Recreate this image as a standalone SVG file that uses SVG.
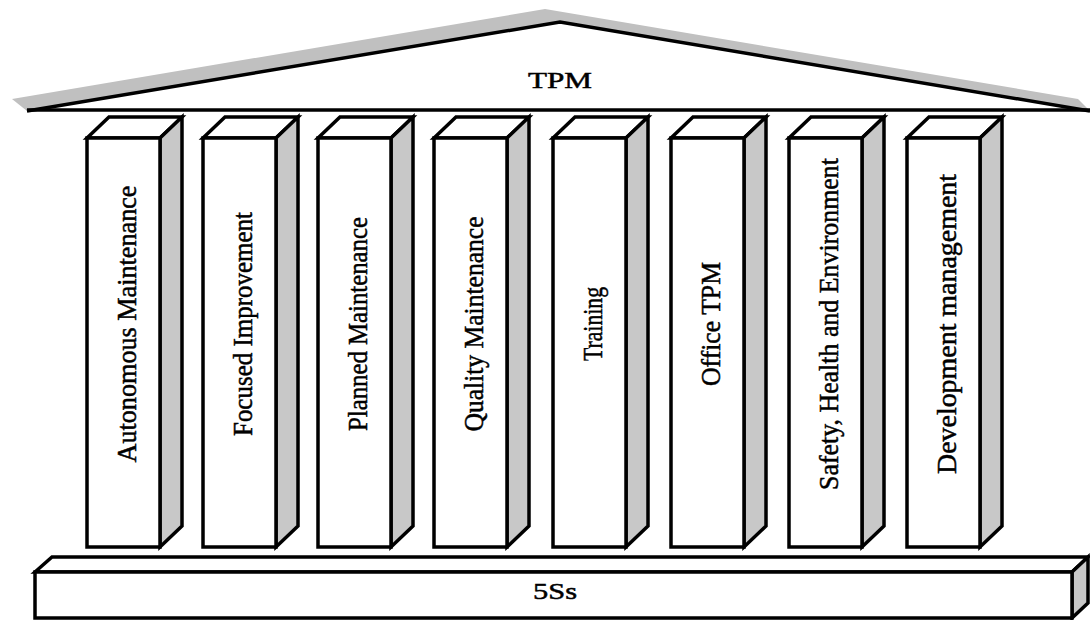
<svg xmlns="http://www.w3.org/2000/svg" width="1090" height="620" viewBox="0 0 1090 620">
<style>
.ln{stroke:#000;stroke-width:3.5;stroke-linejoin:miter}
.face{fill:#fff}
.side{fill:#c8c8c8}
.lbl{font-family:"Liberation Serif","Times New Roman",serif;font-size:28px;fill:#000;stroke:#000;stroke-width:0.5;text-anchor:middle}
</style>
<rect width="1090" height="620" fill="#fff"/>
<g id="roof">
<polygon points="12,99 545,9 1078,99 1090,111 27,111" fill="#c0c0c0"/>
<polygon points="27,111 560,22 1090,111" fill="#fff"/>
<polyline points="27,111 560,22 1090,111" fill="none" class="ln" stroke-width="3"/>
<line x1="27" y1="110" x2="1090" y2="110" class="ln"/>
<text x="560" y="88" class="lbl" style="font-size:24px" textLength="64" lengthAdjust="spacingAndGlyphs">TPM</text>
</g>
<g id="pillar1">
<polygon points="87,138 109,117 182,117 160,138" class="face ln"/>
<polygon points="160,138 182,117 182,526 160,547" class="side ln"/>
<rect x="87" y="138" width="73" height="409" class="face ln"/>
<text transform="translate(136,324) rotate(-90)" class="lbl" textLength="277" lengthAdjust="spacingAndGlyphs">Autonomous Maintenance</text>
</g>
<g id="pillar2">
<polygon points="203,138 225,117 298,117 276,138" class="face ln"/>
<polygon points="276,138 298,117 298,526 276,547" class="side ln"/>
<rect x="203" y="138" width="73" height="409" class="face ln"/>
<text transform="translate(252,324) rotate(-90)" class="lbl" textLength="224" lengthAdjust="spacingAndGlyphs">Focused Improvement</text>
</g>
<g id="pillar3">
<polygon points="318,138 340,117 413,117 391,138" class="face ln"/>
<polygon points="391,138 413,117 413,526 391,547" class="side ln"/>
<rect x="318" y="138" width="73" height="409" class="face ln"/>
<text transform="translate(367,324) rotate(-90)" class="lbl" textLength="214" lengthAdjust="spacingAndGlyphs">Planned Maintenance</text>
</g>
<g id="pillar4">
<polygon points="434,138 456,117 529,117 507,138" class="face ln"/>
<polygon points="507,138 529,117 529,526 507,547" class="side ln"/>
<rect x="434" y="138" width="73" height="409" class="face ln"/>
<text transform="translate(483,324) rotate(-90)" class="lbl" textLength="215" lengthAdjust="spacingAndGlyphs">Quality Maintenance</text>
</g>
<g id="pillar5">
<polygon points="553,138 575,117 648,117 626,138" class="face ln"/>
<polygon points="626,138 648,117 648,526 626,547" class="side ln"/>
<rect x="553" y="138" width="73" height="409" class="face ln"/>
<text transform="translate(602,324) rotate(-90)" class="lbl" textLength="74" lengthAdjust="spacingAndGlyphs">Training</text>
</g>
<g id="pillar6">
<polygon points="671,138 693,117 766,117 744,138" class="face ln"/>
<polygon points="744,138 766,117 766,526 744,547" class="side ln"/>
<rect x="671" y="138" width="73" height="409" class="face ln"/>
<text transform="translate(720,324) rotate(-90)" class="lbl" textLength="124" lengthAdjust="spacingAndGlyphs">Office TPM</text>
</g>
<g id="pillar7">
<polygon points="789,138 811,117 884,117 862,138" class="face ln"/>
<polygon points="862,138 884,117 884,526 862,547" class="side ln"/>
<rect x="789" y="138" width="73" height="409" class="face ln"/>
<text transform="translate(838,324) rotate(-90)" class="lbl" textLength="332" lengthAdjust="spacingAndGlyphs">Safety, Health and Environment</text>
</g>
<g id="pillar8">
<polygon points="907,138 929,117 1002,117 980,138" class="face ln"/>
<polygon points="980,138 1002,117 1002,526 980,547" class="side ln"/>
<rect x="907" y="138" width="73" height="409" class="face ln"/>
<text transform="translate(956,324) rotate(-90)" class="lbl" textLength="300" lengthAdjust="spacingAndGlyphs">Development management</text>
</g>
<g id="base">
<polygon points="35,572 52,557 1088,557 1072,572" class="face ln"/>
<polygon points="1072,572 1088,557 1088,603 1072,618" class="side ln"/>
<rect x="35" y="572" width="1037" height="46" class="face ln"/>
<text x="555" y="599" class="lbl" style="font-size:24px" textLength="44" lengthAdjust="spacingAndGlyphs">5Ss</text>
</g>
<g id="connectors"></g>
</svg>
